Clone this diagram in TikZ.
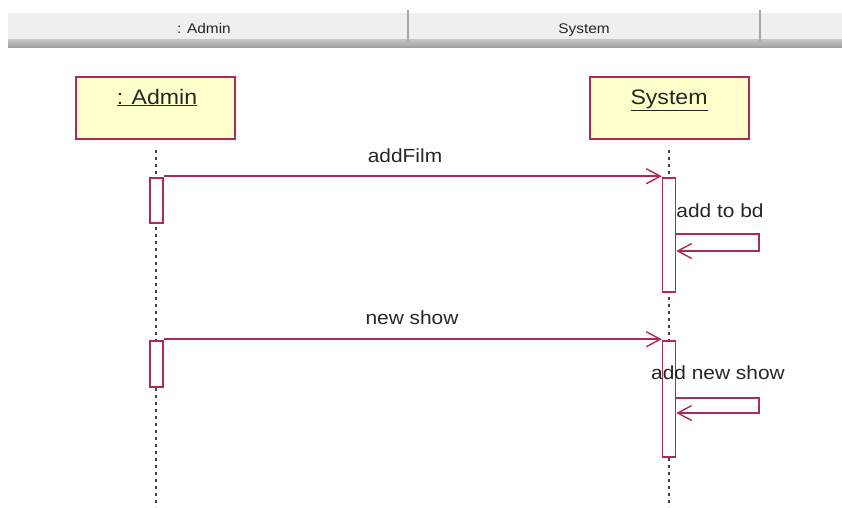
\documentclass[tikz,border=0pt]{standalone}
\usepackage{fontspec}
\newfontfamily\umlfont[FakeStretch=1.1]{Liberation Sans}
\usetikzlibrary{arrows.meta}
\definecolor{nline}{RGB}{172,42,84}
\definecolor{nbox}{RGB}{255,255,204}
\definecolor{nbar}{RGB}{239,239,239}

\begin{document}
\begin{tikzpicture}[x=1pt, y=-1pt,
    obj/.style={draw=nline, line width=1.7pt, fill=nbox, minimum width=159pt, minimum height=62pt, inner sep=0pt},
    act/.style={draw=nline, line width=1.5pt, fill=white, minimum width=13pt, inner sep=0pt},
    msg/.style={draw=nline, line width=1.6pt, -{Straight Barb[length=14pt, width=15pt, line width=1.4pt]}},
    life/.style={line width=1.6pt, gray!50!black, dash pattern=on 3pt off 4pt},
    lbl/.style={font=\umlfont\fontsize{19}{19}\selectfont, text=black!85},
    head/.style={font=\umlfont\fontsize{14}{14}\selectfont, text=black!85, anchor=base}]
    \useasboundingbox (0,0) rectangle (842,507);

    % header bar
    \fill[nbar] (8,13) rectangle (842,39);
    \shade[top color=gray!45, bottom color=gray!75] (8,39) rectangle (842,47);
    \draw[gray!70, line width=1.5pt] (408,10) -- (408,41);
    \draw[gray!70, line width=1.5pt] (760,10) -- (760,41);
    \node[head] (hadm) at (204,33) {: Admin};
    \node[head] (hsys) at (584,33) {System};

    % objects
    \node[obj] (adm) at (155.5,108) {};
    \node[obj] (sys) at (669.5,108) {};
    \node[lbl, anchor=base, font=\umlfont\fontsize{21}{21}\selectfont] (admt) at (157,104) {\underline{: Admin}};
    \node[lbl, anchor=base, font=\umlfont\fontsize{21}{21}\selectfont] (syst) at (669,104) {\underline{System}};

    % lifelines
    \coordinate (admend) at (156,507);
    \coordinate (sysend) at (669,507);
    \draw[life] (156,150) -- (admend);
    \draw[life] (669,150) -- (sysend);

    % activations
    \node[act, minimum height=45pt] (a1) at (156.5,200.5) {};
    \node[act, minimum height=46pt] (a2) at (156.5,364) {};
    \node[act, minimum height=114pt] (s1) at (669,235) {};
    \node[act, minimum height=116pt] (s2) at (669,399) {};

    % messages
    \draw[msg] ([yshift=1pt]a1.north east) -- ([yshift=1pt]s1.north west);
    \node[lbl] (m1) at (405,156) {addFilm};
    \draw[msg] ([yshift=1pt]a2.north east) -- ([yshift=1pt]s2.north west);
    \node[lbl] (m2) at (412,318) {new show};

    % self calls
    \coordinate (r1) at (759,234);
    \coordinate (r2) at (759,251);
    \draw[msg] (s1.east |- r1) -- (r1) -- (r2) -- (s1.east |- r2);
    \node[lbl] (m3) at (720,211) {add to bd};
    \coordinate (r3) at (759,398);
    \coordinate (r4) at (759,413);
    \draw[msg] (s2.east |- r3) -- (r3) -- (r4) -- (s2.east |- r4);
    \node[lbl] (m4) at (718,373) {add new show};
\end{tikzpicture}
\end{document}
